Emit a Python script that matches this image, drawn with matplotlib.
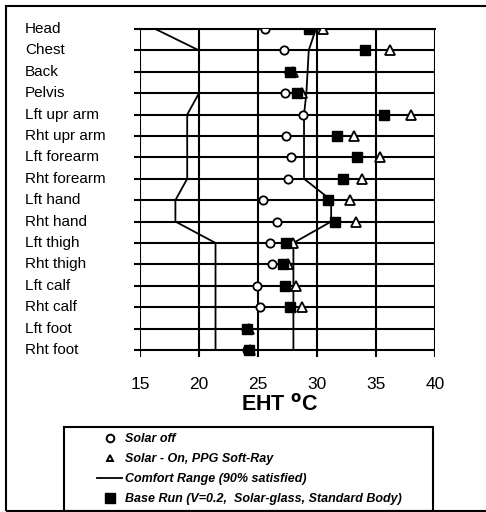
import matplotlib
matplotlib.use("Agg")
import matplotlib.pyplot as plt
import matplotlib.transforms as mtransforms
from matplotlib.lines import Line2D
from matplotlib.patches import Rectangle

plt.rcParams['font.family'] = ['Liberation Sans', 'DejaVu Sans']

# body segments, top to bottom
parts = ['Head', 'Chest', 'Back', 'Pelvis', 'Lft upr arm', 'Rht upr arm',
         'Lft forearm', 'Rht forearm', 'Lft hand', 'Rht hand', 'Lft thigh',
         'Rht thigh', 'Lft calf', 'Rht calf', 'Lft foot', 'Rht foot']

# EHT values (deg C)
solar_off = [25.6, 27.2, 27.6, 27.3, 28.8, 27.4, 27.8, 27.5,
             25.4, 26.6, 26.0, 26.2, 24.9, 25.2, 24.0, 24.1]
solar_on = [30.5, 36.2, 28.0, 28.7, 38.0, 33.1, 35.3, 33.8,
            32.8, 33.3, 28.0, 27.5, 28.2, 28.7, 24.2, 24.3]
base_run = [29.3, 34.1, 27.7, 28.3, 35.7, 31.7, 33.4, 32.2,
            30.9, 31.5, 27.4, 27.1, 27.3, 27.7, 24.1, 24.2]
comfort_lo = [16.3, 20.0, 20.0, 20.0, 19.0, 19.0, 19.0, 19.0,
              18.0, 18.0, 21.4, 21.4, 21.4, 21.4, 21.4, 21.4]
comfort_hi = [29.9, 29.3, 29.2, 29.1, 28.9, 28.9, 28.9, 28.9,
              31.2, 31.2, 28.0, 28.0, 28.0, 28.0, 28.0, 28.0]

xticks = [15, 20, 25, 30, 35, 40]

W, H = 486, 512
fig = plt.figure(figsize=(W / 100, H / 100), dpi=100)
ax = fig.add_axes([140 / W, 1 - 357 / H, 295 / W, 328 / H])

rows = list(range(len(parts)))

marks = []
marks += ax.plot(comfort_lo, rows, color='black', lw=1.3, zorder=3)
marks += ax.plot(comfort_hi, rows, color='black', lw=1.3, zorder=3)
marks += ax.plot(solar_off, rows, 'o', ls='none', ms=6, mfc='white', mec='black', mew=1.3, zorder=4)
marks += ax.plot(solar_on, rows, '^', ls='none', ms=6.5, mfc='white', mec='black', mew=1.3, zorder=4)
marks += ax.plot(base_run, rows, 's', ls='none', ms=6.5, color='black', zorder=5)
for m in marks:
    m.set_clip_path(ax.patch)  # cut the Head markers at the top edge

ax.set_xlim(15, 40)
ax.set_ylim(15.33, 0)
ax.set_xticks(xticks)
ax.set_xticklabels([str(t) for t in xticks], fontsize=12.5)
ax.set_yticks(rows)
ax.set_yticklabels([])
ax.tick_params(axis='x', length=0, pad=14.5)
ax.tick_params(axis='y', direction='out', length=4, width=1.5)
ax.grid(True, color='black', lw=1.5)
ax.set_axisbelow(True)
for s in ['left', 'right', 'bottom']:
    ax.spines[s].set_visible(False)
ax.spines['top'].set_linewidth(1.5)

# row names, left aligned near the figure edge
trans = mtransforms.blended_transform_factory(fig.transFigure, ax.transData)
for r, name in zip(rows, parts):
    ax.text(25 / W, r, name, transform=trans, fontsize=11, ha='left', va='center',
            clip_on=False)

fig.text(280 / W, 1 - 404 / H, r'EHT $^{\mathbf{o}}$C', fontsize=15.5,
         fontweight='bold', ha='center', va='center')

handles = [
    Line2D([], [], marker='o', ls='none', ms=5.5, mfc='white', mec='black', mew=1.4),
    Line2D([], [], marker='^', ls='none', ms=5, mfc='white', mec='black', mew=1.4),
    Line2D([], [], color='black', lw=1.3),
    Line2D([], [], marker='s', ls='none', ms=6.5, color='black'),
]
labels = ['Solar off', 'Solar - On, PPG Soft-Ray', 'Comfort Range (90% satisfied)',
          'Base Run (V=0.2,  Solar-glass, Standard Body)']
fig.legend(handles, labels, loc='upper left', bbox_to_anchor=(97 / W, 1 - 433 / H),
           frameon=False, borderpad=0, borderaxespad=0, handlelength=2.0,
           handletextpad=0.25, labelspacing=0.64,
           prop={'style': 'italic', 'weight': 'bold', 'size': 9})

fig.patches.append(Rectangle((64 / W, 1 - 511 / H), 369 / W, 84 / H, transform=fig.transFigure,
                             fill=False, lw=1.5, ec='black'))
fig.patches.append(Rectangle((6 / W, 1 - 511 / H), 1, 505 / H, transform=fig.transFigure,
                             fill=False, lw=1.5, ec='black'))

fig.savefig('out.png', dpi=100)
